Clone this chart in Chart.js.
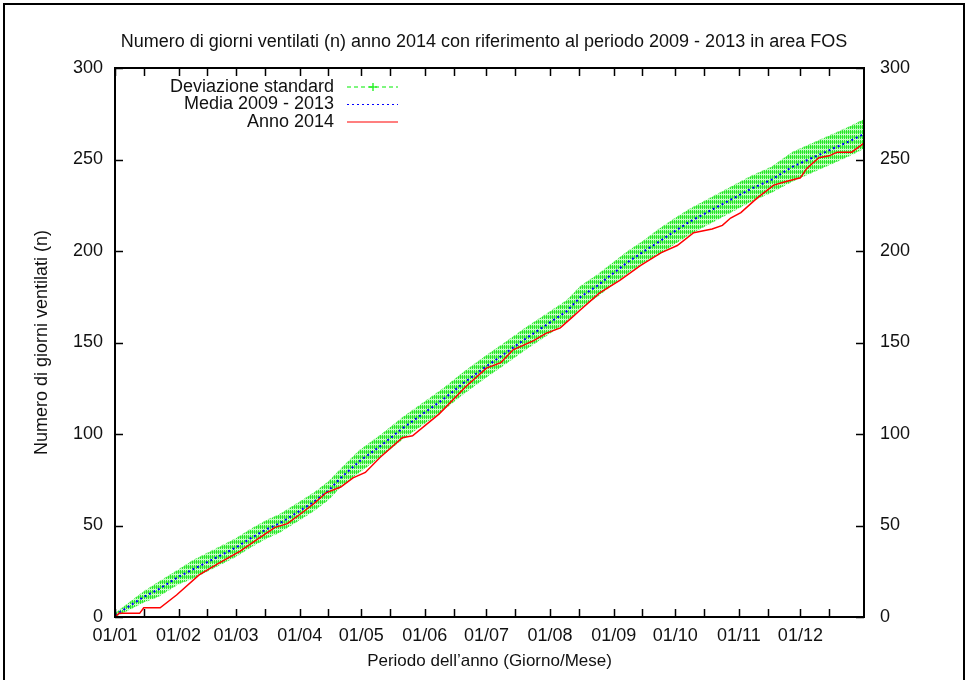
<!DOCTYPE html>
<html>
<head>
<meta charset="utf-8">
<script src="https://cdn.jsdelivr.net/npm/chart.js@4/dist/chart.umd.min.js"></script>
<style>
html, body { margin: 0; padding: 0; background: #fff; overflow: hidden; }
#cornice { position: absolute; left: 3px; top: 3px; width: 958px; height: 720px; border: 2px solid #000; }
#contenitore { position: absolute; left: 0; top: 0; width: 968px; height: 680px; }
</style>
</head>
<body>
<div id="cornice"></div>
<div id="contenitore"><canvas id="canvasFos" width="968" height="680"></canvas></div>
<script>
// Giorni ventilati - area FOS
const giorniMese = [0, 31, 59, 90, 120, 151, 181, 212, 243, 273, 304, 334];
const etichetteMese = ["01/01", "01/02", "01/03", "01/04", "01/05", "01/06", "01/07", "01/08", "01/09", "01/10", "01/11", "01/12"];
const giorniMeta = [14, 45, 73, 104, 134, 165, 195, 226, 257, 287, 318, 348];
const tickY = [0, 50, 100, 150, 200, 250, 300];

// media 2009 - 2013 e deviazione standard
const giorniMedia = [0, 7, 14, 21, 31, 38, 45, 52, 59, 66, 74, 80, 90, 97, 104, 110, 119, 130, 140, 150, 160, 170, 181, 190, 200, 212, 220, 227, 235, 243, 250, 258, 265, 273, 280, 290, 300, 310, 320, 330, 340, 350, 358, 365];
const media = [1, 6, 11, 15, 22, 26, 30, 34, 38, 43, 48, 51, 58, 63, 69, 76, 85, 94, 103, 111, 119, 128, 137, 144, 152, 161, 167, 175, 181, 188, 194, 200, 205, 211, 216, 222, 228, 234, 239, 246, 251, 256, 260, 264];
const devStd = [1, 2, 3, 4, 4, 5, 5, 5, 5, 5, 5, 5, 5, 5, 5, 5, 6, 6, 6, 6, 6, 6, 6, 6, 6, 6, 6, 6, 6, 6, 6, 6, 7, 7, 7, 7, 7, 7, 7, 8, 8, 8, 8, 8];

// anno 2014
const giorni2014 = [0, 2, 12, 14, 22, 30, 41, 50, 61, 70, 74, 78, 84, 90, 97, 103, 110, 116, 122, 129, 140, 145, 158, 171, 181, 188, 194, 204, 210, 217, 223, 227, 233, 236, 246, 256, 266, 274, 282, 291, 296, 300, 305, 313, 321, 327, 334, 337, 343, 348, 352, 359, 365];
const anno2014 = [0, 2, 2, 5, 5, 12, 23, 29, 36, 43, 46, 49, 51, 56, 62, 68, 71, 76, 79, 87, 98, 99, 111, 126, 136, 139, 146, 151, 155, 158, 164, 168, 174, 177, 184, 192, 199, 203, 210, 212, 214, 218, 221, 229, 236, 238, 240, 245, 251, 252, 254, 254, 259];

const voci = [
    { label: "Deviazione standard", color: "#00ee00", dash: [4, 3], piu: true },
    { label: "Media 2009 - 2013", color: "#0000ff", dash: [2, 3], piu: false },
    { label: "Anno 2014", color: "#ff0000", dash: [], piu: false },
];

const punti = (xs, ys) => xs.map((x, i) => ({ x: x, y: ys[i] }));
const inferiore = media.map((m, i) => m - devStd[i]);
const superiore = media.map((m, i) => m + devStd[i]);

// trama a trattini verticali per la banda
const trama = document.createElement("canvas");
trama.width = 2;
trama.height = 5;
const tc = trama.getContext("2d");
tc.fillStyle = "#c2ffc2";
tc.fillRect(0, 0, 2, 5);
tc.fillStyle = "#28e628";
tc.fillRect(0, 0, 1, 4);
tc.fillStyle = "#7cf57c";
tc.fillRect(1, 1, 1, 2);
const motivo = tc.createPattern(trama, "repeat");

const famiglia = "'Liberation Sans', Arial, sans-serif";
const fontTick = { family: famiglia, size: 18 };

const decorazioni = {
    id: "decorazioni",
    afterDatasetsDraw(chart) {
        const { ctx, chartArea: a, scales } = chart;
        ctx.save();
        ctx.strokeStyle = "#000";
        ctx.lineWidth = 1.5;
        ctx.beginPath();
        scales.x.ticks.forEach(t => {
            const px = Math.round(scales.x.getPixelForValue(t.value)) + 0.5;
            ctx.moveTo(px, a.bottom); ctx.lineTo(px, a.bottom - 8);
            ctx.moveTo(px, a.top); ctx.lineTo(px, a.top + 8);
        });
        scales.y.ticks.forEach(t => {
            const py = Math.round(scales.y.getPixelForValue(t.value)) + 0.5;
            ctx.moveTo(a.left, py); ctx.lineTo(a.left + 8, py);
            ctx.moveTo(a.right, py); ctx.lineTo(a.right - 8, py);
        });
        ctx.stroke();
        ctx.lineWidth = 2;
        ctx.strokeRect(a.left, a.top, a.right - a.left, a.bottom - a.top);

        // legenda
        ctx.font = "18px " + famiglia;
        ctx.textAlign = "right";
        ctx.textBaseline = "middle";
        voci.forEach((v, i) => {
            const y = a.top + 19 + i * 17.5;
            ctx.fillStyle = "#111";
            ctx.fillText(v.label, a.left + 219, y);
            ctx.strokeStyle = v.color;
            ctx.lineWidth = 1.2;
            ctx.setLineDash(v.dash);
            ctx.beginPath();
            ctx.moveTo(a.left + 232, y);
            ctx.lineTo(a.left + 283, y);
            ctx.stroke();
            ctx.setLineDash([]);
            if (v.piu) {
                ctx.beginPath();
                ctx.moveTo(a.left + 258, y - 4); ctx.lineTo(a.left + 258, y + 4);
                ctx.moveTo(a.left + 254, y); ctx.lineTo(a.left + 262, y);
                ctx.stroke();
            }
        });
        ctx.restore();
    },
};

const chartFos = new Chart(document.getElementById("canvasFos"), {
    type: "line",
    data: {
        datasets: [
            {
                label: "inferiore",
                data: punti(giorniMedia, inferiore),
                borderColor: "rgba(110, 240, 110, 0.7)",
                borderWidth: 1,
                borderDash: [3, 3],
                pointRadius: 0,
                fill: false,
                order: 3,
            },
            {
                label: voci[0].label,
                data: punti(giorniMedia, superiore),
                borderColor: "rgba(110, 240, 110, 0.7)",
                backgroundColor: motivo,
                borderWidth: 1,
                borderDash: [3, 3],
                pointRadius: 0,
                fill: "-1",
                order: 2,
            },
            {
                label: voci[1].label,
                data: punti(giorniMedia, media),
                borderColor: "#0000ff",
                borderWidth: 2,
                borderDash: [2, 3],
                pointRadius: 0,
                fill: false,
                order: 1,
            },
            {
                label: voci[2].label,
                data: punti(giorni2014, anno2014),
                borderColor: "#ff0000",
                borderWidth: 1.5,
                pointRadius: 0,
                fill: false,
                order: 0,
            },
        ],
    },
    options: {
        responsive: false,
        animation: false,
        layout: { padding: 0 },
        plugins: {
            legend: { display: false },
            tooltip: { enabled: false },
            title: {
                display: true,
                text: "Numero di giorni ventilati (n) anno 2014 con riferimento al periodo 2009 - 2013 in area FOS",
                color: "#111",
                font: { family: famiglia, size: 18, weight: "normal" },
                padding: { top: 31, bottom: 15.4 },
            },
        },
        scales: {
            x: {
                type: "linear",
                position: "bottom",
                min: 0,
                max: 365,
                afterBuildTicks: s => {
                    s.ticks = giorniMese.concat(giorniMeta).sort((p, q) => p - q).map(v => ({ value: v }));
                },
                afterFit: s => { s.height = 63; },
                ticks: {
                    autoSkip: false,
                    maxRotation: 0,
                    padding: 8,
                    color: "#111",
                    font: fontTick,
                    callback: v => {
                        const i = giorniMese.indexOf(v);
                        return i >= 0 ? etichetteMese[i] : "";
                    },
                },
                grid: { display: false, drawTicks: false },
                border: { display: false },
                title: {
                    display: true,
                    text: "Periodo dell\u2019anno (Giorno/Mese)",
                    color: "#111",
                    font: { family: famiglia, size: 17 },
                    padding: { top: 0, bottom: 8 },
                },
            },
            y: {
                position: "left",
                min: 0,
                max: 300,
                afterBuildTicks: s => { s.ticks = tickY.map(v => ({ value: v })); },
                afterFit: s => { s.width = 115; },
                ticks: { padding: 12, color: "#111", font: fontTick },
                grid: { display: false, drawTicks: false },
                border: { display: false },
                title: {
                    display: true,
                    text: "Numero di giorni ventilati (n)",
                    color: "#111",
                    font: { family: famiglia, size: 18 },
                    padding: { top: 31, bottom: 0 },
                },
            },
            y2: {
                position: "right",
                display: true,
                min: 0,
                max: 300,
                afterBuildTicks: s => { s.ticks = tickY.map(v => ({ value: v })); },
                afterFit: s => { s.width = 104; },
                ticks: { padding: 16, color: "#111", font: fontTick },
                grid: { display: false, drawTicks: false },
                border: { display: false },
            },
        },
    },
    plugins: [decorazioni],
});
</script>
</body>
</html>
